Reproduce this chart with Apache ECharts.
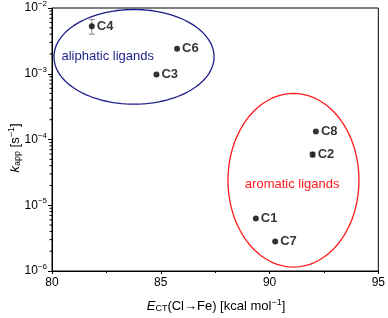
<!DOCTYPE html>
<html><head><meta charset="utf-8">
<script src="https://cdn.jsdelivr.net/npm/echarts@6/dist/echarts.min.js"></script>
<style>html,body{margin:0;padding:0;background:#fff}#c{width:388px;height:318px}</style>
</head><body><div id="c"></div>
<script>
// ---- data ----
const names   = ['C4', 'C6', 'C3', 'C8', 'C2', 'C1', 'C7'];
const ectVals = [81.83, 85.75, 84.8, 92.13, 91.98, 89.37, 90.26];
const kVals   = [5.3e-3, 2.4e-3, 9.7e-4, 1.32e-4, 5.9e-5, 6.3e-6, 2.8e-6];
const errLow  = [4.0e-3, null, null, null, 5.4e-5, null, null];
const errHigh = [6.7e-3, null, null, null, 6.4e-5, null, null];
const xTicks = [80, 85, 90, 95];
const yExponents = [-6, -5, -4, -3, -2];
// group ellipses: centre x, centre k, half-width (kcal/mol), half-height (decades)
const groupNames = ['aliphatic ligands', 'aromatic ligands'];
const groupColors = ['#1c1c8a', '#ff1a1a'];
const groupCx = [83.77, 91.1];
const groupCk = [1.81e-3, 2.4e-5];
const groupRx = [3.68, 3.01];
const groupRy = [0.72, 1.32];
const groupTextX = [82.56, 91.04];
const groupTextK = [1.81e-3, 2.09e-5];
// minor log ticks
const minorK = [];
for (let e = -6; e < -2; e++) for (let m = 2; m <= 9; m++) minorK.push(m * Math.pow(10, e));

const FONT = 'Liberation Sans, Arial, sans-serif';
const chart = echarts.init(document.getElementById('c'));
const pts = names.map((n, i) => [ectVals[i], kVals[i], n]);
const errs = [];
names.forEach((n, i) => { if (errLow[i] != null) errs.push([ectVals[i], errLow[i], errHigh[i]]); });

chart.setOption({
  animation: false,
  grid: { left: 52, right: 7, top: 7, bottom: 47, show: true, borderColor: '#000', borderWidth: 1 },
  xAxis: {
    type: 'value', min: 80, max: 95, interval: 5,
    axisLine: { lineStyle: { color: '#000' } },
    axisTick: { show: true, length: 3, lineStyle: { color: '#000' } },
    minorTick: { show: true, splitNumber: 2, length: 2, lineStyle: { color: '#000' } },
    splitLine: { show: false },
    axisLabel: { color: '#000', fontFamily: FONT, fontSize: 12, margin: 6,
      formatter: v => xTicks.indexOf(v) >= 0 ? String(v) : '' }
  },
  yAxis: {
    type: 'log', logBase: 10, min: 1e-6, max: 1e-2,
    axisLine: { lineStyle: { color: '#000' } },
    axisTick: { show: true, length: 4, lineStyle: { color: '#000' } },
    splitLine: { show: false },
    axisLabel: {
      color: '#000', fontFamily: FONT, fontSize: 12, margin: 5,
      formatter: v => {
        const e = Math.round(Math.log10(v));
        if (yExponents.indexOf(e) < 0) return '';
        return '10{sup|−' + (-e) + '}';
      },
      rich: { sup: { fontSize: 8, fontFamily: FONT, color: '#000', verticalAlign: 'top', padding: [0, 0, 8, 0] } }
    }
  },
  series: [
    {
      type: 'custom', silent: true, z: 1,
      data: groupNames.map((g, i) => [groupCx[i], groupCk[i], groupRx[i], groupRy[i], groupTextX[i], groupTextK[i], i]),
      renderItem: (params, api) => {
        const cx = api.value(0), ck = api.value(1), rx = api.value(2), ry = api.value(3);
        const i = api.value(6);
        const c = api.coord([cx, ck]);
        const prx = api.coord([cx + rx, ck])[0] - c[0];
        const pry = c[1] - api.coord([cx, ck * Math.pow(10, ry)])[1];
        const points = [];
        for (let a = 0; a < 120; a++) {
          const t = a / 120 * Math.PI * 2;
          points.push([c[0] + prx * Math.cos(t), c[1] + pry * Math.sin(t)]);
        }
        const tp = api.coord([api.value(4), api.value(5)]);
        return { type: 'group', children: [
          { type: 'polygon', shape: { points }, style: { fill: 'none', stroke: groupColors[i], lineWidth: 1.3 } },
          { type: 'text', x: tp[0], y: tp[1], style: { text: groupNames[i], fill: groupColors[i], font: '13px ' + FONT, align: 'center', verticalAlign: 'middle' } }
        ] };
      }
    },
    {
      type: 'custom', silent: true, z: 2,
      data: errs,
      renderItem: (params, api) => {
        const lo = api.coord([api.value(0), api.value(1)]);
        const hi = api.coord([api.value(0), api.value(2)]);
        const st = { stroke: '#888', lineWidth: 1 };
        return { type: 'group', children: [
          { type: 'line', shape: { x1: lo[0], y1: lo[1], x2: hi[0], y2: hi[1] }, style: st },
          { type: 'line', shape: { x1: lo[0] - 3, y1: lo[1], x2: lo[0] + 3, y2: lo[1] }, style: st },
          { type: 'line', shape: { x1: hi[0] - 3, y1: hi[1], x2: hi[0] + 3, y2: hi[1] }, style: st }
        ] };
      }
    },
    {
      type: 'custom', silent: true, clip: false,
      data: minorK.map(k => [80, k]),
      renderItem: (params, api) => {
        const p = api.coord([api.value(0), api.value(1)]);
        return { type: 'line', shape: { x1: p[0] - 2.5, y1: p[1], x2: p[0], y2: p[1] }, style: { stroke: '#000', lineWidth: 1 } };
      }
    },
    {
      type: 'scatter', z: 3, symbol: 'circle', symbolSize: 6,
      itemStyle: { color: '#000' },
      data: pts,
      label: { show: true, position: 'right', distance: 2, formatter: p => p.data[2],
        color: '#000', fontFamily: FONT, fontSize: 13, fontWeight: 'bold' }
    }
  ],
  graphic: [
    { type: 'text', x: 216, y: 306,
      style: { text: '{i|E}{sub|CT}{n|(Cl→Fe) [kcal mol}{sup|−1}{n|]}', align: 'center', verticalAlign: 'middle',
        rich: {
          i: { fontFamily: FONT, fontSize: 13, fontStyle: 'italic', fill: '#000' },
          n: { fontFamily: FONT, fontSize: 13, fill: '#000' },
          sub: { fontFamily: FONT, fontSize: 9, fill: '#000', padding: [6, 0, 0, 0] },
          sup: { fontFamily: FONT, fontSize: 9, fill: '#000', padding: [0, 0, 7, 0] }
        } } },
    { type: 'text', x: 15, y: 148, rotation: Math.PI / 2,
      style: { text: '{i|k}{sub|app}{n| [s}{sup|−1}{n|]}', align: 'center', verticalAlign: 'middle',
        rich: {
          i: { fontFamily: FONT, fontSize: 13, fontStyle: 'italic', fill: '#000' },
          n: { fontFamily: FONT, fontSize: 13, fill: '#000' },
          sub: { fontFamily: FONT, fontSize: 9, fill: '#000', padding: [6, 0, 0, 0] },
          sup: { fontFamily: FONT, fontSize: 9, fill: '#000', padding: [0, 0, 7, 0] }
        } } }
  ]
});
</script></body></html>
